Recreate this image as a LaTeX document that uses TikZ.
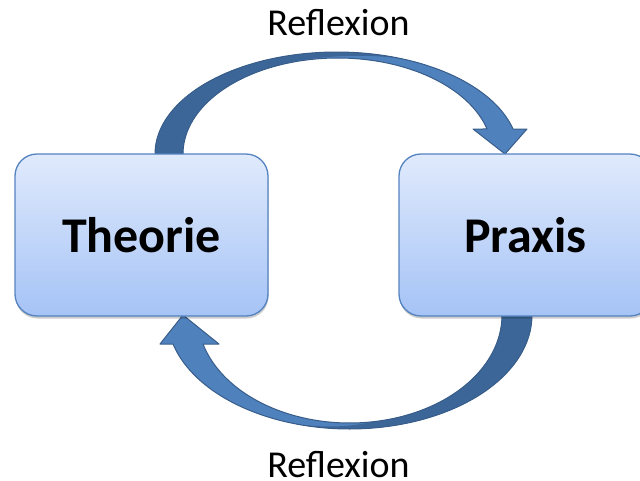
\documentclass[tikz,border=0pt]{standalone}
\usepackage{fontspec}
\setmainfont{Carlito}
\usetikzlibrary{shadows}
\definecolor{arrowlight}{HTML}{4F81BD}
\definecolor{arrowdark}{HTML}{3D6698}
\definecolor{arrowline}{HTML}{385D8A}
\definecolor{boxtop}{HTML}{E0EAFC}
\definecolor{boxbot}{HTML}{A5C3F6}
\definecolor{boxline}{HTML}{5583C0}
\newcommand\TopArrowPath{plot[domain=180:14.19, samples=80] ({336.8+181.8*cos(\x)},{154-102*sin(\x)})
  -- (527,129) -- (505,154) -- (473,129)
  -- plot[domain=15.1:180, samples=80] ({337.7+154.7*cos(\x)},{154-96*sin(\x)}) -- cycle}
\newcommand\BotArrowPath{plot[domain=0:165.26, samples=80] ({349.5+182.5*cos(\x)},{315+114*sin(\x)})
  -- (160,344) -- (183,315) -- (219,344)
  -- plot[domain=164.42:0, samples=80] ({349.7+152.3*cos(\x)},{315+108*sin(\x)}) -- cycle}
\begin{document}
\begin{tikzpicture}[x=1pt,y=-1pt,
  box/.style={rounded corners=22pt, draw=boxline, line width=1.3pt,
    top color=boxtop, bottom color=boxbot,
    minimum width=253pt, minimum height=162pt, inner sep=0pt,
    font=\fontsize{50}{56}\selectfont\bfseries,
    drop shadow={shadow xshift=0.5pt, shadow yshift=-2.5pt, opacity=0.2, fill=black}},
  lbl/.style={font=\fontsize{38}{42}\selectfont, inner sep=0pt, anchor=base},
  arrowfill/.style={fill=arrowlight},
  arrowshade/.style={fill=arrowdark},
  arrowedge/.style={draw=arrowline, line width=1pt, line join=round}]
\useasboundingbox (0,0) rectangle (640,480);
\clip (0,0) rectangle (640,480);
% top arrow
\fill[arrowfill] \TopArrowPath;
\fill[arrowshade] plot[domain=180:67.3, samples=60] ({336.8+181.8*cos(\x)},{154-102*sin(\x)})
  .. controls (375,53) and (315,55) .. (283,64.2)
  -- plot[domain=110.7:180, samples=60] ({337.7+154.7*cos(\x)},{154-96*sin(\x)}) -- cycle;
\draw[arrowedge] \TopArrowPath;
% bottom arrow
\fill[arrowfill] \BotArrowPath;
\fill[arrowshade] plot[domain=0:106.7, samples=60] ({349.5+182.5*cos(\x)},{315+114*sin(\x)})
  .. controls (325,428) and (350,427) .. (373,421.7)
  -- plot[domain=81.2:0, samples=60] ({349.7+152.3*cos(\x)},{315+108*sin(\x)}) -- cycle;
\draw[arrowedge] \BotArrowPath;
% boxes
\node[box] (theorie) at (141.5,235) {Theorie};
\node[box] (praxis) at (525.5,235) {Praxis};
% labels
\node[lbl] (reflTop) at (338.5,35) {Reflexion};
\node[lbl] (reflBot) at (338.5,477.5) {Reflexion};
\end{tikzpicture}
\end{document}
